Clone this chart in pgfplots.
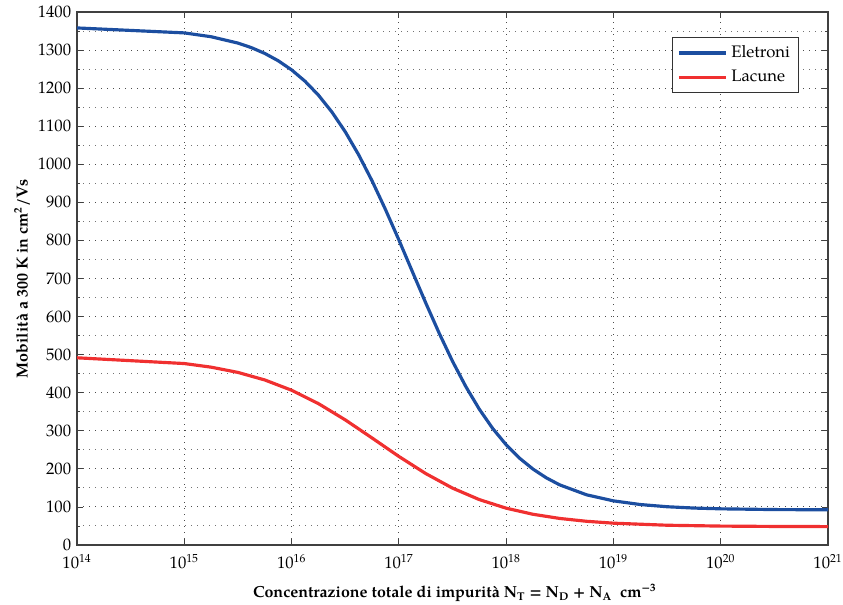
\documentclass[border=0pt]{standalone}
\usepackage{fontspec}
\setmainfont{TeX Gyre Pagella}
\usepackage{pgfplots}
\pgfplotsset{compat=1.18}
\definecolor{eblue}{RGB}{28,78,160}
\definecolor{hred}{RGB}{240,48,48}
\begin{document}
\begin{tikzpicture}
\useasboundingbox (-46.2pt,-36pt) rectangle (459.6pt,327pt);
\begin{axis}[
  at={(0pt,0pt)}, anchor=south west,
  width=450.6pt, height=319.8pt, scale only axis,
  xmode=log, log basis x=10,
  xmin=1e14, xmax=1e21, ymin=0, ymax=1400,
  xtick={1e14,1e15,1e16,1e17,1e18,1e19,1e20,1e21},
  xticklabels={10\textsuperscript{14},10\textsuperscript{15},10\textsuperscript{16},10\textsuperscript{17},10\textsuperscript{18},10\textsuperscript{19},10\textsuperscript{20},10\textsuperscript{21}},
  ytick={0,100,...,1400},
  minor y tick num=1,
  /pgf/number format/assume math mode=true,
  /pgf/number format/1000 sep={},
  tick label style={font=\fontsize{10}{12}\selectfont, text=black},
  xticklabel style={yshift=-2.2pt},
  label style={font=\fontsize{9.6}{11}\selectfont\bfseries},
  xlabel={Concentrazione totale di impurità N\textsubscript{T} = N\textsubscript{D} + N\textsubscript{A}\ \ cm\textsuperscript{−3}},
  ylabel={Mobilità a 300 K in cm\textsuperscript{2}/Vs},
  xlabel style={at={(axis description cs:0.503,-0.0905)}, anchor=center},
  ylabel style={at={(axis description cs:-0.0732,0.5)}, anchor=center},
  grid=both,
  major grid style={black!70, dash pattern=on 0.6pt off 3pt, line width=0.6pt},
  minor grid style={black!55, dash pattern=on 0.6pt off 3pt, line width=0.6pt},
  axis line style={black!75, line width=0.7pt},
  tick style={black!75, line width=0.5pt},
  major tick length=3.5pt, minor tick length=2pt,
  tick align=inside,
  xtick pos=both, ytick pos=both,
  legend style={at={(0.961,0.953)}, anchor=north east, draw=black!80, line width=0.5pt,
    font=\fontsize{10}{12}\selectfont, inner xsep=3pt, inner ysep=3pt, row sep=2pt},
  legend cell align=left,
  legend image code/.code={\draw[#1, line width=2pt] (0cm,0cm) -- (1.0cm,0cm);},
]
\addplot[eblue, line width=1.9pt] coordinates {
(1e14,1358.1) (1e15,1345.1) (1.7783e15,1335.0) (3.1623e15,1318.3) (4.2170e15,1306.4)
(5.6234e15,1291.2) (7.4989e15,1272.0) (1e16,1248.0) (1.3335e16,1218.2) (1.7783e16,1181.7)
(2.3714e16,1137.6) (3.1623e16,1085.5) (4.2170e16,1025.0) (5.6234e16,956.6) (7.4989e16,881.3)
(1e17,801.3) (1.3335e17,718.6) (1.7783e17,636.2) (2.3714e17,556.8) (3.1623e17,482.6)
(4.2170e17,415.6) (5.6234e17,356.6) (7.4989e17,305.9) (1e18,263.3) (1.3335e18,228.0)
(1.7783e18,199.4) (2.3714e18,176.3) (3.1623e18,157.8) (5.6234e18,131.8) (1e19,115.9)
(1.7783e19,106.3) (3.1623e19,100.5) (5.6234e19,97.0) (1e20,95.0) (3.1623e20,93.05) (1e21,92.4)
};
\addlegendentry{Eletroni}
\addplot[hred, line width=1.9pt] coordinates {
(1e14,491.7) (1e15,476.6) (1.7783e15,467.1) (3.1623e15,453.3) (5.6234e15,433.5)
(1e16,406.5) (1.7783e16,371.4) (3.1623e16,328.7) (5.6234e16,281.1) (1e17,232.6)
(1.7783e17,187.7) (3.1623e17,149.4) (5.6234e17,119.2) (1e18,96.7) (1.7783e18,80.7)
(3.1623e18,69.7) (5.6234e18,62.25) (1e19,57.3) (3.1623e19,51.9) (1e20,49.65)
(3.1623e20,48.7) (1e21,48.3)
};
\addlegendentry{Lacune}
\end{axis}
\end{tikzpicture}
\end{document}
